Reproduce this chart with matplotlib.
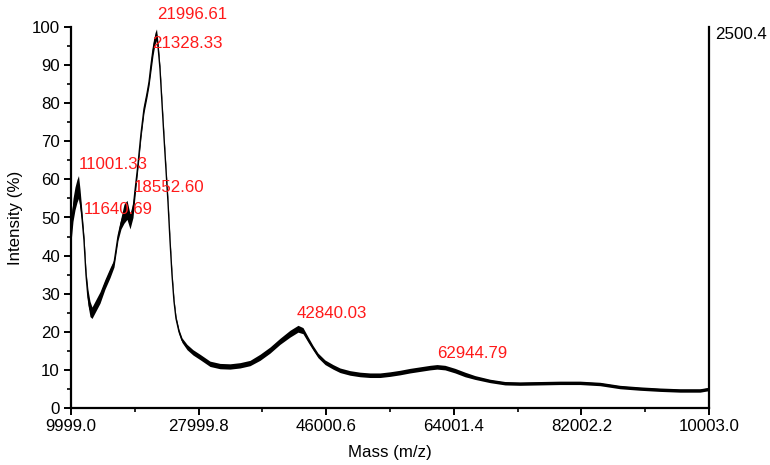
import matplotlib
matplotlib.use('Agg')
import matplotlib.pyplot as plt
from matplotlib.ticker import FixedLocator, FixedFormatter, MultipleLocator
import numpy as np

plt.rcParams['font.family'] = ['Liberation Sans', 'DejaVu Sans']

# spectrum: mass, centre intensity, half-width of the noise band
mass = [9999, 10281, 10563, 10845, 11057, 11269, 11551, 11833, 12115, 12397,
        12679, 12962, 13384, 14090, 14795, 15501, 16065, 16629, 17053, 17476,
        17899, 18322, 18745, 19028, 19451, 19874, 20297, 20720, 21002, 21285,
        21567, 21849, 22060, 22272, 22555, 22837, 23119, 23401, 23683, 23965,
        24247, 24529, 24811, 25235, 25658, 26363, 27208, 28197, 29607, 31017,
        32428, 33839, 35250, 36660, 38071, 39482, 40892, 42021, 42726, 43432,
        44137, 44842, 45830, 46958, 47946, 49357, 50768, 52178, 53589, 55000,
        56410, 57821, 59232, 60643, 61630, 62759, 64170, 65580, 66991, 69107,
        71223, 73340, 76161, 78982, 81803, 84624, 87446, 90267, 93088, 95909,
        98730, 100003]
intensity = [46, 52, 55, 57, 58, 55, 50, 44, 35, 29,
             26, 25, 26.5, 29, 32.5, 35.5, 38, 45, 48.5, 51,
             52, 49, 52, 57, 64, 72, 78.5, 82.5, 85.5, 90,
             94, 97, 98, 95, 89, 80, 71, 62.5, 54, 44,
             35, 28, 23.5, 20, 17.8, 16, 14.6, 13.4, 11.6, 11,
             10.9, 11.2, 11.8, 13.3, 15.2, 17.5, 19.5, 20.8, 20.3, 18,
             15.8, 13.8, 12, 10.8, 9.9, 9.2, 8.8, 8.6, 8.6, 8.9,
             9.3, 9.8, 10.2, 10.6, 10.8, 10.6, 9.8, 8.8, 8.0, 7.1,
             6.5, 6.4, 6.5, 6.6, 6.6, 6.3, 5.5, 5.1, 4.8, 4.6,
             4.6, 5.0]
spread = [2.5, 3, 3, 3, 3, 2.5, 1.5, 1, 1, 2,
          2, 1.5, 1.5, 1.5, 1.3, 1.3, 1, 1, 1.5, 2.5,
          2.5, 2, 2, 1.5, 1, 1, 1, 1, 1, 1.5,
          1.5, 1.5, 1.5, 1, 0.6, 0.6, 0.6, 0.6, 0.6, 0.6,
          0.6, 0.6, 0.6, 0.6, 0.6, 0.7, 0.7, 0.7, 0.7, 0.7,
          0.7, 0.7, 0.7, 0.8, 0.8, 0.8, 0.9, 0.9, 0.8, 0.7,
          0.6, 0.6, 0.6, 0.6, 0.6, 0.6, 0.6, 0.6, 0.6, 0.6,
          0.6, 0.6, 0.6, 0.6, 0.6, 0.6, 0.6, 0.6, 0.5, 0.45,
          0.45, 0.45, 0.45, 0.45, 0.45, 0.45, 0.45, 0.45, 0.45, 0.45,
          0.45, 0.45]

# peak labels
peak_mass = [11001.33, 11640.69, 18552.60, 21328.33, 21996.61, 42840.03, 62944.79]
label_y = [63.8, 52.0, 58.0, 95.8, 103.4, 24.7, 14.2]
label_dx = [0.5, 0.5, 1.2, 0.3, 0.5, -5, -6.5]  # points

x_ticks = [9999.0, 27999.8, 46000.6, 64001.4, 82002.2, 100003.0]
x_tick_labels = ['9999.0', '27999.8', '46000.6', '64001.4', '82002.2', '10003.0']

m = np.array(mass)
c = np.array(intensity)
s = np.array(spread)

fig = plt.figure(figsize=(7.7, 4.65), dpi=100)
ax = fig.add_axes([71/770, 57/465, 638/770, 381/465])

ax.fill_between(m, c - s, c + s, color='black', linewidth=0)
ax.plot(m, c, color='black', linewidth=1.0)

for pm, ly, dx in zip(peak_mass, label_y, label_dx):
    ax.annotate(f'{pm:.2f}', (pm, ly), xytext=(dx, 0), textcoords='offset points',
                color='#ff1a1a', fontsize=12.2, ha='left', va='center',
                annotation_clip=False)

ax.set_xlim(x_ticks[0], x_ticks[-1])
ax.set_ylim(0, 100)
ax.xaxis.set_major_locator(FixedLocator(x_ticks))
ax.xaxis.set_major_formatter(FixedFormatter(x_tick_labels))
minor = [(a + b) / 2 for a, b in zip(x_ticks[:-1], x_ticks[1:])]
ax.xaxis.set_minor_locator(FixedLocator(minor))
ax.yaxis.set_major_locator(MultipleLocator(10))
ax.yaxis.set_minor_locator(MultipleLocator(5))

ax.spines['top'].set_visible(False)
for sp in ['left', 'bottom', 'right']:
    ax.spines[sp].set_linewidth(1.6)
ax.tick_params(which='major', direction='out', length=5, width=1.4,
               labelsize=12.2, colors='black', pad=3)
ax.tick_params(which='minor', direction='out', length=3, width=1.2)
ax.tick_params(axis='y', right=False)

ax.set_xlabel('Mass (m/z)', fontsize=12.2, labelpad=8)
ax.set_ylabel('Intensity (%)', fontsize=12.2, labelpad=6)
ax.text(1.01, 1.0, '2500.4', transform=ax.transAxes, fontsize=12.2,
        ha='left', va='top')

fig.savefig('out.png', dpi=100)
